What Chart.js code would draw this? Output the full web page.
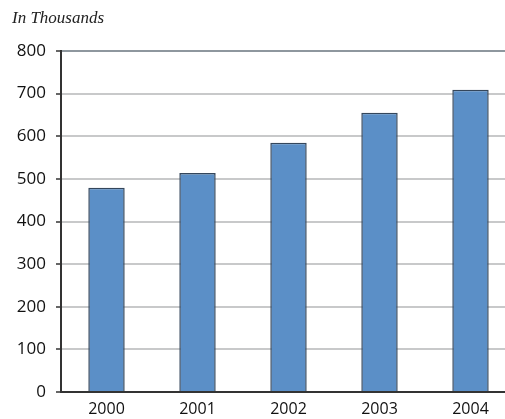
<!DOCTYPE html>
<html>
<head>
<meta charset="utf-8">
<script src="https://cdn.jsdelivr.net/npm/chart.js@4"></script>
<style>
  html, body { margin: 0; padding: 0; background: #fff; overflow: hidden; }
  #wrap { width: 516px; height: 419px; }
</style>
</head>
<body>
<div id="wrap"><canvas id="bars" width="516" height="419"></canvas></div>
<script>
// values (in thousands)
var years = ['2000', '2001', '2002', '2003', '2004'];
var counts = [479, 514, 585, 655, 709];
var yTicks = [0, 100, 200, 300, 400, 500, 600, 700, 800];

var tickFont = { family: "'Open Sans', 'Noto Sans', sans-serif", size: 17 };

const ctx = document.getElementById('bars').getContext('2d');
const barChart = new Chart(ctx, {
  type: 'bar',
  data: {
    labels: years,
    datasets: [{
      data: counts,
      backgroundColor: '#5b8fc7',
      borderColor: '#34465b',
      borderWidth: 1.5,
      categoryPercentage: 0.8,
      barPercentage: 0.5
    }]
  },
  options: {
    responsive: false,
    animation: false,
    layout: { padding: { left: 12, right: 0, top: 0, bottom: 0 } },
    plugins: {
      legend: { display: false },
      tooltip: { enabled: false },
      title: {
        display: true,
        text: 'In Thousands',
        align: 'start',
        color: '#222',
        font: { family: "'Liberation Serif', 'DejaVu Serif', serif", style: 'italic', size: 17, weight: 'normal', lineHeight: 1.2 },
        padding: { top: 8, bottom: 22.6 }
      }
    },
    scales: {
      x: {
        grid: { display: false, drawTicks: false },
        border: { display: true, color: '#333', width: 2 },
        ticks: { color: '#111', font: { family: tickFont.family, size: 16 }, padding: 8 },
        afterFit: function (scale) { scale.height = 27; }
      },
      y: {
        min: 0,
        max: 800,
        afterBuildTicks: function (scale) {
          scale.ticks = yTicks.map(v => ({ value: v }));
        },
        grid: {
          color: function (c) {
            if (c.tick && c.tick.value === 800) return '#8e979e';
            if (c.tick && c.tick.value === 0) return '#333';
            return '#c8c9ca';
          },
          lineWidth: 2,
          tickLength: 5,
          tickColor: '#333',
          tickWidth: 1.5
        },
        border: { display: true, color: '#333', width: 2 },
        ticks: { color: '#111', font: tickFont, padding: 10 },
        afterFit: function (scale) { scale.width = 49; }
      }
    }
  }
});
</script>
</body>
</html>
